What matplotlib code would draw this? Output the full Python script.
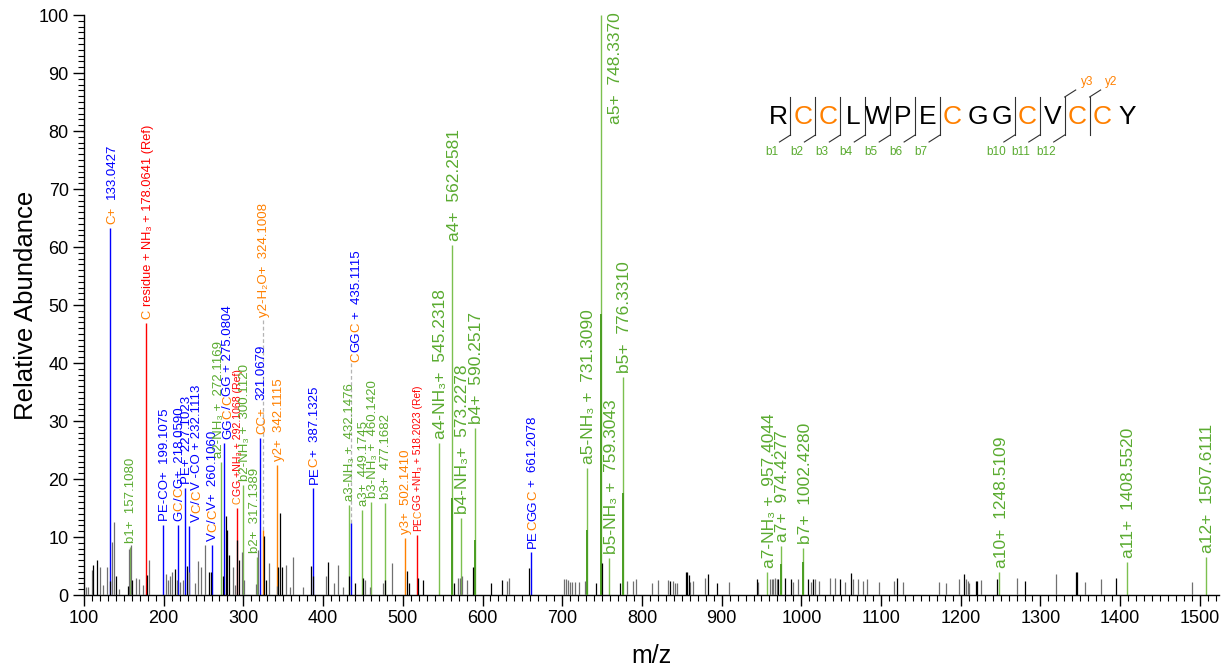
import matplotlib
matplotlib.use('Agg')
import matplotlib.pyplot as plt
from matplotlib.font_manager import FontProperties
from matplotlib.transforms import offset_copy
from matplotlib.lines import Line2D
from matplotlib.ticker import MultipleLocator
import re

FAMILY = ['Liberation Sans', 'DejaVu Sans']
plt.rcParams['font.family'] = FAMILY

BLUE = '#0000ff'
RED = '#ff0000'
ORANGE = '#ff8000'
GREEN_TXT = '#5aab30'
GREEN_LINE = '#7cc04f'
GREEN_DARK = '#4a9e22'
GRAY = '#707070'

# annotated fragment peaks (m/z, relative abundance, ion kind)
# kind: i = internal fragment, r = reference, y = y ion, a = a/b ion
ion_mz = [133.0427, 157.1080, 178.0641, 199.1075, 218.0590, 227.1023, 232.1113, 260.1060,
          272.1169, 275.0804, 292.1068, 300.1120, 317.1389, 321.0679, 324.1008, 342.1115,
          387.1325, 432.1476, 435.1115, 449.1745, 460.1420, 477.1682, 502.1410, 518.2023,
          545.2318, 562.2581, 573.2278, 590.2517, 661.2078, 731.3090, 748.3370, 759.3043,
          776.3310, 957.4044, 974.4277, 1002.4280, 1248.5109, 1408.5520, 1507.6111]
ion_int = [63.3, 8.3, 46.9, 12.0, 12.1, 18.4, 11.9, 8.6,
           23.0, 26.2, 15.0, 19.0, 6.6, 27.0, 11.2, 22.4,
           18.4, 15.5, 12.4, 14.7, 16.0, 15.8, 9.8, 10.3,
           26.2, 60.3, 13.3, 28.8, 7.4, 21.9, 100.0, 6.4,
           37.6, 4.0, 8.4, 8.1, 4.0, 5.7, 6.6]
ion_kind = ['i', 'a', 'r', 'i', 'i', 'i', 'i', 'i',
            'a', 'i', 'r', 'a', 'a', 'i', 'y', 'y',
            'i', 'a', 'i', 'a', 'a', 'a', 'y', 'r',
            'a', 'a', 'a', 'a', 'i', 'a', 'a', 'a',
            'a', 'a', 'a', 'a', 'a', 'a', 'a']
# [..] marks cysteine letters drawn in orange
ion_label = ['[C+]  133.0427', 'b1+  157.1080', '[C] residue + NH₃ + 178.0641 (Ref)',
             'PE-CO+  199.1075', 'G[C]/[C]G+  218.0590', 'PE+  227.1023',
             'V[C]/[C]V -CO + 232.1113', 'V[C]/[C]V+  260.1060', 'a2-NH₃ +  272.1169',
             'GG[C]/[C]GG + 275.0804', '[C]GG +NH₃ + 292.1068 (Ref)', 'b2-NH₃ +  300.1120',
             'b2+  317.1389', '[CC+]  321.0679', 'y2-H₂O+  324.1008', 'y2+  342.1115',
             'PE[C]+  387.1325', 'a3-NH₃ +  432.1476', '[C]GG[C] +  435.1115',
             'a3+  449.1745', 'b3-NH₃ +  460.1420', 'b3+  477.1682', 'y3+  502.1410',
             'PE[C]GG +NH₃ + 518.2023 (Ref)', 'a4-NH₃+  545.2318', 'a4+  562.2581',
             'b4-NH₃+  573.2278', 'b4+  590.2517', 'PE[C]GG[C] +  661.2078',
             'a5-NH₃ +  731.3090', 'a5+  748.3370', 'b5-NH₃ +  759.3043', 'b5+  776.3310',
             'a7-NH₃ +  957.4044', 'a7+  974.4277', 'b7+  1002.4280', 'a10+  1248.5109',
             'a11+  1408.5520', 'a12+  1507.6111']

# matched peak heights drawn darker under the green label lines
match_mz = [562.2581, 590.2517, 731.3090, 748.3370, 776.3310, 974.4277, 1002.4280]
match_int = [16.7, 9.5, 11.2, 48.4, 17.6, 5.4, 5.7]

# unassigned peaks
gray_mz = [102.5, 105.4, 109.6, 120.1, 123.4, 128.4, 134.7, 138.1, 144.3, 156.9, 159.0,
           165.2, 169.4, 173.6, 182.0, 202.9, 205.8, 207.9, 210.0, 216.3, 220.4, 224.6,
           232.2, 239.3, 243.5, 246.8, 251.8, 286.5, 289.5, 298.3, 300.8, 315.9, 318.7,
           332.6, 341.8, 353.5, 358.5, 362.7, 374.4, 403.7, 413.7, 419.2, 425.4, 452.6,
           458.9, 474.7, 486.1, 569.7, 571.7, 574.3, 581.0, 630.4, 632.6, 702.6, 704.7,
           706.8, 709.7, 711.8, 716.0, 720.6, 728.5, 781.4, 788.9, 793.1, 813.2, 820.3,
           832.8, 838.5, 841.0, 843.5, 859.9, 863.7, 879.1, 909.6, 945.2, 960.7, 962.8,
           964.9, 967.0, 969.1, 989.2, 996.3, 1011.8, 1017.2, 1022.7, 1036.1, 1042.3,
           1054.9, 1064.5, 1071.7, 1077.9, 1082.8, 1097.9, 1116.7, 1127.2, 1172.3, 1181.1,
           1198.3, 1206.7, 1208.8, 1210.9, 1225.1, 1270.3, 1319.2, 1355.9, 1376.0, 1490.6]
gray_int = [1.4, 1.3, 4.3, 4.9, 1.7, 4.9, 9.2, 12.6, 1.1, 8.0, 8.6,
            2.9, 2.7, 1.7, 6.0, 3.7, 2.6, 3.2, 3.9, 2.6, 2.3, 2.6,
            4.0, 2.1, 5.9, 4.8, 8.6, 4.9, 1.7, 7.5, 2.6, 1.9, 7.8,
            5.5, 1.6, 5.2, 1.4, 6.6, 1.4, 3.2, 2.0, 5.2, 1.4, 2.6,
            1.4, 2.0, 5.5, 2.9, 2.9, 3.3, 2.6, 2.5, 3.0, 2.7, 2.7,
            2.6, 2.3, 2.3, 2.3, 2.3, 2.5, 2.5, 2.5, 2.7, 2.0, 2.6,
            2.6, 2.4, 2.1, 2.1, 2.3, 2.5, 3.0, 2.3, 2.3, 2.7, 2.7,
            2.8, 3.0, 2.8, 2.3, 2.7, 2.3, 2.8, 2.5, 3.0, 3.0,
            2.3, 2.7, 2.7, 2.5, 2.7, 2.2, 2.4, 2.2, 2.2, 2.1,
            2.7, 2.7, 2.5, 2.1, 2.6, 2.9, 3.6, 2.2, 2.7, 2.2]
black_mz = [111.7, 115.9, 133.0, 140.2, 155.6, 160.6, 178.6, 214.2, 229.7, 257.3, 259.4,
            274.0, 278.2, 279.8, 282.4, 292.4, 294.9, 325.8, 328.4, 343.8, 345.9, 348.0,
            384.4, 387.8, 406.6, 433.0, 440.0, 449.6, 477.7, 505.7, 507.3, 519.5, 525.8,
            563.6, 588.6, 610.3, 624.1, 657.9, 742.1, 750.1, 773.0, 835.8, 855.7, 857.0,
            858.6, 883.3, 894.6, 943.9, 971.2, 979.5, 987.1, 1008.8, 1015.1, 1048.6, 1062.0,
            1119.6, 1204.6, 1218.8, 1220.1, 1246.0, 1281.2, 1344.7, 1346.4, 1394.8]
black_int = [5.2, 6.0, 2.4, 3.2, 1.6, 2.6, 3.4, 4.4, 5.0, 4.0, 3.9,
             3.2, 13.6, 11.2, 6.9, 9.5, 6.1, 10.1, 2.6, 4.9, 14.1, 4.8,
             5.0, 3.2, 5.7, 3.2, 2.0, 2.9, 2.6, 4.2, 2.0, 2.9, 2.6,
             2.0, 4.8, 2.0, 2.6, 4.6, 2.0, 5.5, 2.0, 2.4, 3.9, 4.0,
             3.5, 3.6, 2.0, 2.7, 2.7, 3.0, 2.7, 2.7, 2.7, 2.7, 3.8,
             3.0, 3.6, 2.4, 2.4, 2.7, 2.4, 3.9, 3.9, 3.0]

peptide = 'RCCLWPECGGCVCCY'
b_ions = [1, 2, 3, 4, 5, 6, 7, 10, 11, 12]
y_ions = [3, 2]

line_color = {'i': BLUE, 'r': RED, 'y': ORANGE, 'a': GREEN_LINE}
text_color = {'i': BLUE, 'r': RED, 'y': ORANGE, 'a': GREEN_TXT}

# label layout tweaks (pixels / font size / raised labels)
label_size = {2: 9.3, 10: 7.6, 23: 7.4}
for k in list(range(24, 28)) + list(range(29, 39)):
    label_size[k] = 12.5
label_dx = {6: 6, 8: -4, 9: 3, 12: -4, 18: 4, 30: 13}
label_lift = {14: 47.2, 18: 39.5, 30: 80.6}

W, H, DPI = 1227, 670, 100
fig = plt.figure(figsize=(W / DPI, H / DPI), dpi=DPI)
ax = fig.add_axes([84 / W, 75 / H, 1135 / W, 580 / H])

ax.vlines(ion_mz, 0, ion_int, colors=[line_color[k] for k in ion_kind], lw=1.0, zorder=2)
ax.vlines(match_mz, 0, match_int, colors=GREEN_DARK, lw=1.4, zorder=3)
ax.vlines(gray_mz, 0, gray_int, colors=GRAY, lw=0.9, zorder=4)
ax.vlines(black_mz, 0, black_int, colors='k', lw=0.9, zorder=4)

ax.set_xlim(100, 1524)
ax.set_ylim(0, 100)
ax.spines['top'].set_visible(False)
ax.spines['right'].set_visible(False)
for s in ('left', 'bottom'):
    ax.spines[s].set_linewidth(1.0)
ax.xaxis.set_major_locator(MultipleLocator(100))
ax.xaxis.set_minor_locator(MultipleLocator(10))
ax.yaxis.set_major_locator(MultipleLocator(10))
ax.yaxis.set_minor_locator(MultipleLocator(1))
ax.tick_params(which='major', direction='out', length=8, width=1.0, labelsize=13, pad=3)
ax.tick_params(which='minor', direction='out', length=4, width=0.8)
ax.set_xlabel('m/z', fontsize=18, labelpad=12)
ax.set_ylabel('Relative Abundance', fontsize=18.5, labelpad=0)

renderer = fig.canvas.get_renderer()


def text_w(s, prop):
    return renderer.get_text_width_height_descent(s, prop, ismath=False)[0]


def split_label(label, base):
    segs = []
    for part in re.split(r'(\[[^\]]*\])', label):
        if not part:
            continue
        if part.startswith('['):
            segs.append((part[1:-1], ORANGE))
        else:
            segs.append((part, base))
    return segs


def put_label(mz, top, label, base, size, dx=0.0, gap=4.0):
    prop = FontProperties(family=FAMILY, size=size)
    shift = dx + 0.36 * size * DPI / 72.0
    wI = text_w('I', prop)
    done = ''
    for s, col in split_label(label, base):
        lead = len(s) - len(s.lstrip(' '))
        pre = done + s[:lead]
        off = text_w(pre + 'I', prop) - wI if pre else 0.0
        tr = offset_copy(ax.transData, fig=fig, x=shift, y=gap + off, units='dots')
        ax.text(mz, top, s.lstrip(' '), transform=tr, rotation=90, rotation_mode='anchor',
                ha='left', va='baseline', color=col, fontproperties=prop, clip_on=False,
                zorder=5)
        done += s


for k in range(len(ion_mz)):
    top = ion_int[k]
    if k in label_lift and k != 30:
        ax.plot([ion_mz[k], ion_mz[k]], [top, label_lift[k] + 0.5], ls=(0, (3, 2)),
                color='#b4b4b4', lw=0.9, zorder=1)
    put_label(ion_mz[k], label_lift.get(k, top), ion_label[k], text_color[ion_kind[k]],
              label_size.get(k, 9.5), dx=label_dx.get(k, 0.0))

# peptide sequence with fragment markers (figure pixel layout)
def fx(x):
    return x / W


def fy(y):
    return 1 - y / H


x0, step = 778.0, 24.93
base_y, top_y, bot_y = 124.0, 97.0, 135.0
for i, aa in enumerate(peptide):
    fig.text(fx(x0 + i * step), fy(base_y), aa, ha='center', va='baseline', fontsize=19,
             color=ORANGE if aa == 'C' else 'black')

seps = set(b_ions) | set(len(peptide) - n for n in y_ions)
for n in sorted(seps):
    sx = x0 + (n - 0.5) * step
    fig.add_artist(Line2D([fx(sx), fx(sx)], [fy(bot_y), fy(top_y)], color='#303030', lw=0.8))
for n in b_ions:
    sx = x0 + (n - 0.5) * step
    fig.add_artist(Line2D([fx(sx), fx(sx - 11)], [fy(bot_y), fy(bot_y + 7)], color='#303030', lw=0.8))
    fig.text(fx(sx - 19), fy(152), 'b%d' % n, ha='center', va='center', fontsize=8.5,
             color=GREEN_TXT)
for n in y_ions:
    sx = x0 + (len(peptide) - n - 0.5) * step
    fig.add_artist(Line2D([fx(sx), fx(sx + 11)], [fy(top_y), fy(top_y - 7)], color='#303030', lw=0.8))
    fig.text(fx(sx + 22), fy(82), 'y%d' % n, ha='center', va='center', fontsize=8.5,
             color=ORANGE)

fig.savefig('out.png', dpi=DPI)
